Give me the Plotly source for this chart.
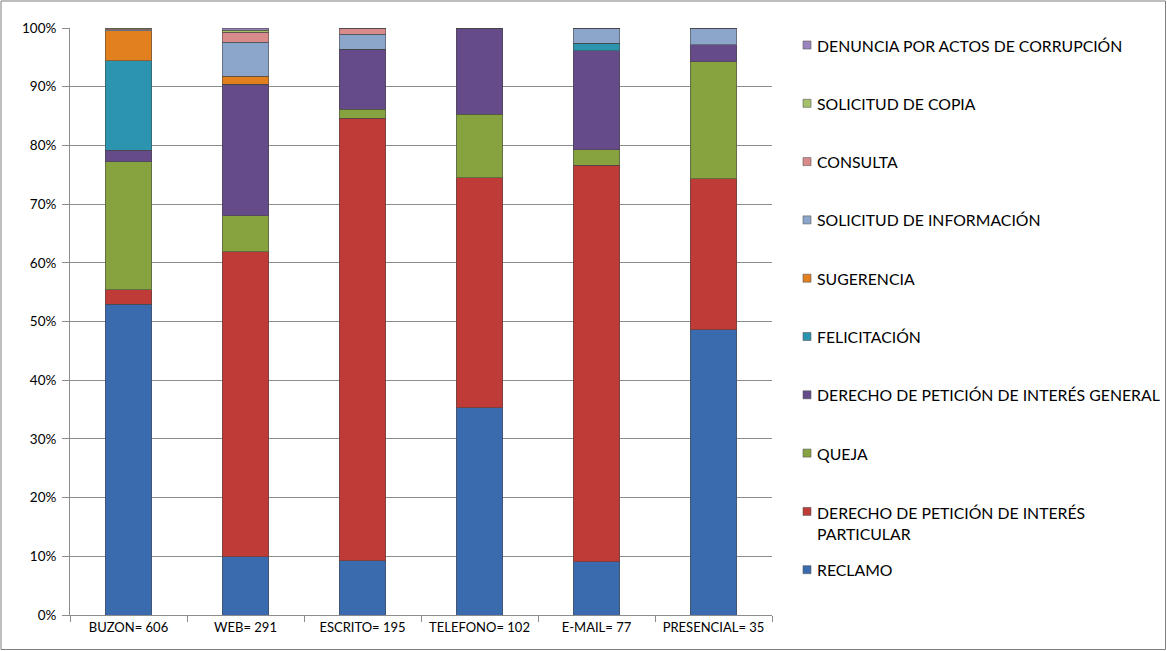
import plotly.graph_objects as go

# Channels through which requests were received (total count in each label)
channels = ["BUZON= 606", "WEB= 291", "ESCRITO= 195", "TELEFONO= 102", "E-MAIL= 77", "PRESENCIAL= 35"]

# Number of requests of each type per channel (stack order: bottom to top)
reclamo = [321, 29, 18, 36, 7, 17]
peticion_particular = [15, 151, 147, 40, 52, 9]
queja = [132, 18, 3, 11, 2, 7]
peticion_general = [12, 65, 20, 15, 13, 1]
felicitacion = [92, 0, 0, 0, 1, 0]
sugerencia = [31, 4, 0, 0, 0, 0]
solicitud_informacion = [1, 17, 5, 0, 2, 1]
consulta = [1, 5, 2, 0, 0, 0]
solicitud_copia = [1, 1, 0, 0, 0, 0]
denuncia = [0, 1, 0, 0, 0, 0]

series = [
    ("RECLAMO", reclamo, "#3A6BAE"),
    ("DERECHO DE PETICIÓN DE INTERÉS<br>PARTICULAR", peticion_particular, "#BE3B38"),
    ("QUEJA", queja, "#87A33F"),
    ("DERECHO DE PETICIÓN DE INTERÉS GENERAL", peticion_general, "#654B8A"),
    ("FELICITACIÓN", felicitacion, "#2C94AF"),
    ("SUGERENCIA", sugerencia, "#E2801F"),
    ("SOLICITUD DE INFORMACIÓN", solicitud_informacion, "#8CA5CB"),
    ("CONSULTA", consulta, "#D98B8B"),
    ("SOLICITUD DE COPIA", solicitud_copia, "#A5C26A"),
    ("DENUNCIA POR ACTOS DE CORRUPCIÓN", denuncia, "#9A84BD"),
]

FONT = "Lato"
W, H = 1167, 651
ML, MR, MT, MB = 70, 395, 28, 36
pw = W - ML - MR
ph = H - MT - MB


def px_x(px):
    """Pixel column -> paper x."""
    return (px - ML) / pw


def px_y(py):
    """Pixel row -> paper y."""
    return (H - MB - py) / ph


fig = go.Figure()
for name, values, color in series:
    fig.add_trace(go.Bar(
        x=channels,
        y=values,
        name=name.replace("<br>", " "),
        marker=dict(color=color, line=dict(color="rgba(70,70,70,0.55)", width=1)),
        showlegend=False,
    ))

# Legend on the right: top of the stack listed first
shapes = []
annotations = []
legend_top, legend_step = 45, 58.3
for k, (name, values, color) in enumerate(reversed(series)):
    cy = legend_top + k * legend_step
    shapes.append(dict(
        type="rect", xref="paper", yref="paper",
        x0=px_x(803), x1=px_x(811), y0=px_y(cy + 4), y1=px_y(cy - 4),
        fillcolor=color, line=dict(color="rgba(90,90,90,0.6)", width=1),
    ))
    multiline = "<br>" in name
    annotations.append(dict(
        xref="paper", yref="paper",
        x=px_x(815), y=px_y(cy - 10.5) if multiline else px_y(cy),
        xanchor="left", yanchor="top" if multiline else "middle",
        align="left", showarrow=False, text=name,
        font=dict(family=FONT, size=15.8, color="#000000"),
    ))

# Outer chart border
shapes.append(dict(
    type="rect", xref="paper", yref="paper",
    x0=px_x(1), x1=px_x(W - 1.5), y0=px_y(H - 1.5), y1=px_y(1),
    line=dict(color="#7F7F7F", width=1), fillcolor="rgba(0,0,0,0)",
))

fig.update_layout(
    width=W,
    height=H,
    margin=dict(l=ML, r=MR, t=MT, b=MB),
    barmode="stack",
    barnorm="percent",
    bargap=0.6,
    plot_bgcolor="white",
    paper_bgcolor="white",
    showlegend=False,
    font=dict(family=FONT, size=13, color="#000000"),
    xaxis=dict(
        showline=True,
        linecolor="#8C8C8C",
        ticks="outside",
        tickson="boundaries",
        ticklen=6,
        tickcolor="#8C8C8C",
        tickfont=dict(family=FONT, size=13),
    ),
    yaxis=dict(
        range=[0, 100],
        dtick=10,
        ticksuffix="%",
        showgrid=True,
        gridcolor="#8C8C8C",
        gridwidth=1,
        showline=True,
        linecolor="#8C8C8C",
        ticks="outside",
        ticklen=7,
        tickcolor="#8C8C8C",
        ticklabelstandoff=3,
        tickfont=dict(family=FONT, size=13.5),
        zeroline=False,
    ),
    shapes=shapes,
    annotations=annotations,
)

fig.write_html("out.html")
